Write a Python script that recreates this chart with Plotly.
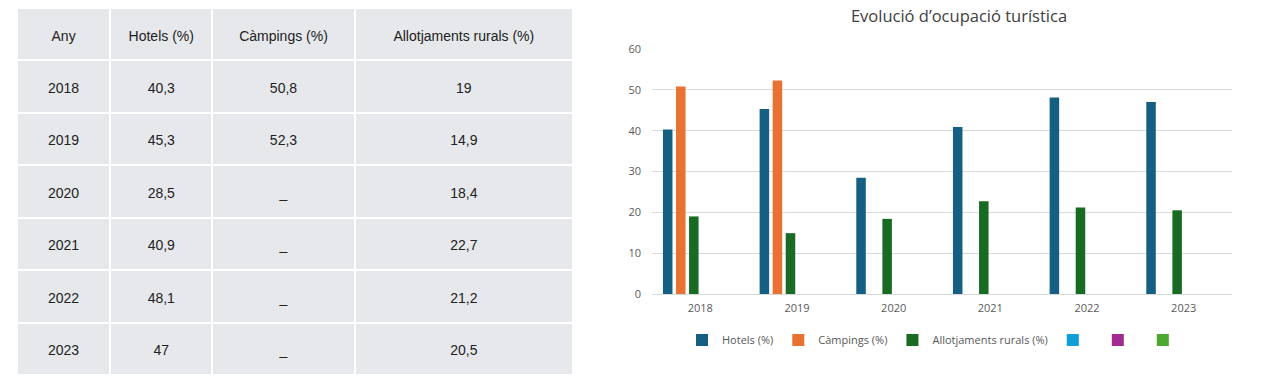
import plotly.graph_objects as go

# ---- data ----
years = ["2018", "2019", "2020", "2021", "2022", "2023"]
hotels = [40.3, 45.3, 28.5, 40.9, 48.1, 47]
campings = [50.8, 52.3, None, None, None, None]
rurals = [19, 14.9, 18.4, 22.7, 21.2, 20.5]
empty_series = [None, None, None, None, None, None]

table_headers = ["Any", "Hotels (%)", "Càmpings (%)", "Allotjaments rurals (%)"]
series_names = ["Hotels (%)", "Càmpings (%)", "Allotjaments rurals (%)"]
chart_title = "Evolució d’ocupació turística"

colors = ["#156082", "#E97132", "#196B24", "#0F9ED5", "#A02B93", "#4EA72E"]

W, H = 1280, 382


def fmt(v):
    if v is None:
        return "_"
    return f"{v:g}".replace(".", ",")


fig = go.Figure()

# ---- table: background grid, then text layers shifted down to centre text in rows ----
tx0, tx1, ty0, ty1 = 17, 573, 8, 375
nrows = len(years) + 1
row_h = (ty1 - ty0) / nrows
colw = [93, 102, 142, 218]
tfont = dict(family="Liberation Sans, Arial, sans-serif", size=14, color="#222222")
cell_values = [years,
               [fmt(v) for v in hotels],
               [fmt(v) for v in campings],
               [fmt(v) for v in rurals]]
clear = "rgba(0,0,0,0)"

fig.add_trace(go.Table(
    domain=dict(x=[tx0 / W, tx1 / W], y=[1 - ty1 / H, 1 - ty0 / H]),
    columnwidth=colw,
    header=dict(values=["" for _ in table_headers], fill_color="#E6E8EB",
                line=dict(color="white", width=2), height=row_h, font=tfont),
    cells=dict(values=[["" for _ in years] for _ in cell_values], fill_color="#E6E8EB",
               line=dict(color="white", width=2), height=row_h, font=tfont),
))

shift = 14
# header + all rows but the last
top_a = ty0 + shift
bot_a = top_a + (nrows - 1) * row_h + 0.5
fig.add_trace(go.Table(
    domain=dict(x=[tx0 / W, tx1 / W], y=[1 - bot_a / H, 1 - top_a / H]),
    columnwidth=colw,
    header=dict(values=table_headers, fill_color=clear, line=dict(color=clear, width=0),
                font=tfont, align="center", height=row_h),
    cells=dict(values=[col[:-1] for col in cell_values], fill_color=clear,
               line=dict(color=clear, width=0), font=tfont, align="center", height=row_h),
))
# last row
top_b = ty0 + (nrows - 1) * row_h + shift
fig.add_trace(go.Table(
    domain=dict(x=[tx0 / W, tx1 / W], y=[1 - (top_b + 40) / H, 1 - top_b / H]),
    columnwidth=colw,
    header=dict(values=[[col[-1]] for col in cell_values], fill_color=clear,
                line=dict(color=clear, width=0), font=tfont, align="center", height=38),
    cells=dict(values=[], fill_color=clear, line=dict(color=clear, width=0), font=tfont),
))

# ---- bars ----
all_series = [hotels, campings, rurals, empty_series, empty_series, empty_series]
names = series_names + ["", "", ""]
for s, n, c in zip(all_series, names, colors):
    fig.add_trace(go.Bar(x=years, y=s, name=n, marker=dict(color=c, line=dict(width=0)),
                         showlegend=True))

cfont = "Open Sans, Roboto, sans-serif"
px0, px1, py_top, py_bot = 652, 1232, 49, 294
fig.update_layout(
    width=W, height=H,
    margin=dict(l=0, r=0, t=0, b=0, autoexpand=False),
    paper_bgcolor="white", plot_bgcolor="white",
    barmode="group", bargap=0.19, bargroupgap=0.27,
    font=dict(family=cfont, color="#595959", size=11),
    title=dict(text=chart_title, x=959 / W, xanchor="center", y=1 - 16 / H, yanchor="middle",
               font=dict(family=cfont, size=16.5, color="#404040")),
    xaxis=dict(domain=[px0 / W, px1 / W], showgrid=False, showline=False, ticks="",
               tickfont=dict(size=11, color="#595959"), ticklabelstandoff=6, automargin=False),
    yaxis=dict(domain=[1 - py_bot / H, 1 - py_top / H], range=[0, 60], dtick=10,
               showgrid=True, gridcolor="#D9D9D9", gridwidth=1, zeroline=True,
               zerolinecolor="#D9D9D9", zerolinewidth=1, showline=False, ticks="",
               tickfont=dict(size=11, color="#595959"), ticklabelstandoff=10, automargin=False),
    legend=dict(orientation="h", x=935 / W, xanchor="center", y=1 - 340 / H, yanchor="middle",
                font=dict(size=11, color="#595959"), itemwidth=30, tracegroupgap=0,
                bgcolor="rgba(0,0,0,0)"),
)

fig.write_html("out.html", config={"displayModeBar": False},
               post_script="document.body.style.margin='0';document.body.style.overflow='hidden';")
